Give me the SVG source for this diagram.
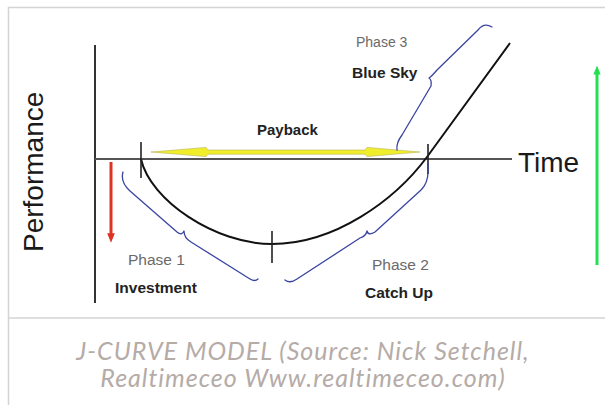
<svg xmlns="http://www.w3.org/2000/svg" width="605" height="405" viewBox="0 0 605 405">
<style>
.lbl{font-family:"Liberation Sans",Arial,sans-serif;font-size:15.5px;fill:#6a6a6a}
.bold{font-family:"Liberation Sans",Arial,sans-serif;font-size:15.5px;font-weight:bold;fill:#222}
.big{font-family:"Liberation Sans",Arial,sans-serif;font-size:28px;fill:#1a1a1a}
.brace{fill:none;stroke:#3a45a0;stroke-width:1.3;stroke-linejoin:round;stroke-linecap:round}
.tick{stroke:#222;stroke-width:1.6}
.cap{font-family:Lato,"Open Sans",sans-serif;font-style:italic;font-size:25px;letter-spacing:1px;fill:#b5aba7;text-anchor:middle}
</style>
<defs>
<marker id="redHead" viewBox="0 0 10 10" refX="5" refY="5" markerWidth="3.2" markerHeight="3.2" orient="auto"><path d="M0,1 L10,5 L0,9 Z" fill="#dd3322"/></marker>
<marker id="greenHead" viewBox="0 0 10 10" refX="5" refY="5" markerWidth="3" markerHeight="3" orient="auto"><path d="M0,1 L10,5 L0,9 Z" fill="#22e050"/></marker>
</defs>
<rect width="605" height="405" fill="#fff"/>
<g id="frame" fill="none" stroke="#d4d4d4" stroke-width="1.5">
<path d="M605,7.5 H8.5 V405"/>
<path d="M8.5,318 H605"/>
</g>
<g id="axes">
<line x1="95" y1="45" x2="95" y2="303" stroke="#333" stroke-width="2"/>
<line x1="95" y1="159" x2="512" y2="159" stroke="#555" stroke-width="2"/>
<text class="big" x="518" y="172">Time</text>
<text class="big" transform="translate(43,252) rotate(-90)">Performance</text>
</g>
<g id="arrows">
<line x1="111" y1="162" x2="111" y2="238" stroke="#dd3322" stroke-width="3" marker-end="url(#redHead)"/>
<line x1="597" y1="265" x2="597" y2="70" stroke="#22e050" stroke-width="3" marker-end="url(#greenHead)"/>
</g>
<g id="payback">
<path d="M151,152 L206,147.4 L208,150 L365,150 L367,147.4 L420,152 L367,156.6 L365,154.2 L208,154.2 L206,156.6 Z" fill="#f0ee2a" stroke="#b8b25a" stroke-width="0.6"/>
<text class="bold" x="257" y="135" style="font-size:15px">Payback</text>
</g>
<g id="curve" fill="none" stroke="#111" stroke-width="2">
<path d="M141,159 C150,200 215,244 272,244 C335,244 395,200 427,157 L510,43"/>
</g>
<g id="ticks">
<line class="tick" x1="141" y1="142" x2="141" y2="178"/>
<line class="tick" x1="272" y1="231" x2="272" y2="263"/>
<line class="tick" x1="428" y1="144" x2="428" y2="174"/>
</g>
<g id="phase1">
<path class="brace" d="M123,172 Q120,182 130,191 L177,232 Q182,236 184,231 Q184,238 191,242 L250,279 Q255,282 258,279"/>
<text class="lbl" x="128" y="265">Phase 1</text>
<text class="bold" x="115" y="293">Investment</text>
</g>
<g id="phase2">
<path class="brace" d="M285,280 Q290,284 297,279 L360,238 Q366,236 367,231 Q368,236 375,232 L421,190 Q428,183 428,172 L428,163"/>
<text class="lbl" x="372" y="270">Phase 2</text>
<text class="bold" x="365" y="298">Catch Up</text>
</g>
<g id="phase3">
<path class="brace" d="M492,27 Q484,22 478,30 L437,70 Q432,76 429,78 Q432,80 431,86 L402,135 Q396,143 397,150"/>
<text class="lbl" x="356" y="47" style="font-size:14px">Phase 3</text>
<text class="bold" x="352" y="78">Blue Sky</text>
</g>
<g id="caption">
<text class="cap" x="303" y="360">J-CURVE MODEL (Source: Nick Setchell,</text>
<text class="cap" x="303" y="387">Realtimeceo Www.realtimeceo.com)</text>
</g>
</svg>
